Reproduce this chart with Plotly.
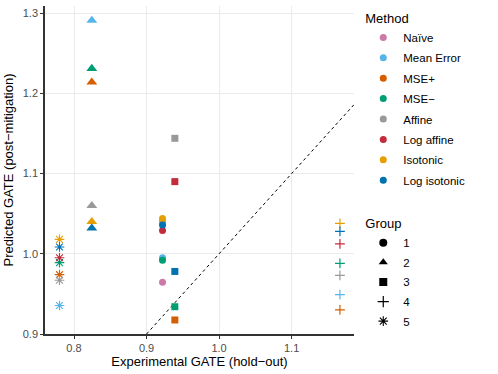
import plotly.graph_objects as go

# data
groups = ["1", "2", "3", "4", "5"]
experimental_gate = [0.922, 0.8245, 0.939, 1.1666, 0.780]

methods = ["Naïve", "Mean Error", "MSE+", "MSE−", "Affine",
           "Log affine", "Isotonic", "Log isotonic"]

naive = [0.9646, None, None, None, None]
mean_error = [0.995, 1.291, None, 0.949, 0.9355]
mse_plus = [None, 1.214, 0.9175, 0.930, 0.974]
mse_minus = [0.992, 1.231, 0.934, 0.988, 0.989]
affine = [1.040, 1.060, 1.144, 0.973, 0.967]
log_affine = [1.029, None, 1.090, 1.0125, 0.995]
isotonic = [1.044, 1.040, None, 1.038, 1.018]
log_isotonic = [1.036, 1.032, 0.978, 1.028, 1.0084]

predicted = [naive, mean_error, mse_plus, mse_minus, affine,
             log_affine, isotonic, log_isotonic]

x_limits = [0.76, 1.186]
y_limits = [0.9, 1.309]

# styling
colors = ["#CC79A7", "#56B4E9", "#D55E00", "#009E73", "#999999",
          "#C42B3C", "#E69F00", "#0072B2"]
symbols = ["circle", "triangle-up", "square", "cross-thin-open", "asterisk-open"]
sizes = [7, 9.5, 7, 7, 8]
line_w = [0, 0, 0, 1.2, 1.1]

FONT = "Liberation Sans, Arial, sans-serif"

fig = go.Figure()

# y = x reference line
fig.add_trace(go.Scatter(
    x=[y_limits[0], x_limits[1] + 0.05],
    y=[y_limits[0], x_limits[1] + 0.05],
    mode="lines",
    line=dict(color="black", width=1, dash="3px,3px"),
    showlegend=False, hoverinfo="skip"))

for name, col, vals in zip(methods, colors, predicted):
    fig.add_trace(go.Scatter(
        x=experimental_gate, y=vals, mode="markers", name=name,
        marker=dict(color=col, symbol=symbols, size=sizes, opacity=1,
                    line=dict(color=col, width=line_w)),
        showlegend=False))

# legend entries: Method
for name, col in zip(methods, colors):
    fig.add_trace(go.Scatter(
        x=[None], y=[None], mode="markers", name=name,
        legendgroup="m_" + name,
        marker=dict(color=col, symbol="circle", size=7),
        legend="legend"))

# legend entries: Group
for g, sym, lw in zip(groups, symbols, line_w):
    fig.add_trace(go.Scatter(
        x=[None], y=[None], mode="markers", name=g,
        legendgroup="g_" + g,
        marker=dict(color="black", symbol=sym, size=8,
                    line=dict(color="black", width=lw)),
        legend="legend2"))

axis_common = dict(
    showgrid=True, gridcolor="#EBEBEB", gridwidth=1, automargin=False,
    zeroline=False, showline=True, linecolor="#333333", linewidth=1.5,
    ticks="outside", ticklen=3, tickcolor="#333333", tickwidth=1,
    tickfont=dict(size=11, color="#4D4D4D", family=FONT),
    tickformat=".1f", dtick=0.1,
)

fig.update_layout(
    width=498, height=374,
    margin=dict(l=45, r=144, t=6, b=40),
    paper_bgcolor="white", plot_bgcolor="white",
    font=dict(family=FONT, color="black"),
    xaxis=dict(range=x_limits, tick0=0.8,
               title=dict(text="Experimental GATE (hold−out)",
                          font=dict(size=13), standoff=4),
               **axis_common),
    yaxis=dict(range=y_limits, tick0=0.9,
               title=dict(text="Predicted GATE (post−mitigation)",
                          font=dict(size=13), standoff=6),
               **axis_common),
    legend=dict(title=dict(text="Method", font=dict(size=13)),
                font=dict(size=11.5), x=1.03, xanchor="left",
                y=1.0, yanchor="top",
                tracegroupgap=1.4, bgcolor="rgba(0,0,0,0)"),
    legend2=dict(title=dict(text="Group", font=dict(size=13)),
                 font=dict(size=11.5), x=1.03, xanchor="left",
                 y=0.374, yanchor="top",
                 tracegroupgap=0.6, bgcolor="rgba(0,0,0,0)"),
)

fig.write_html("out.html", config={"displayModeBar": False},
               post_script="document.body.style.margin='0';")
